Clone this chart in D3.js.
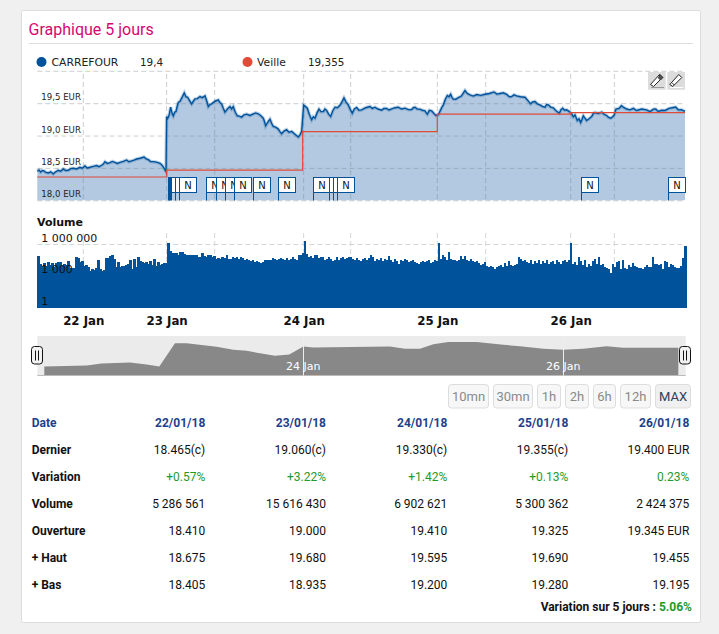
<!DOCTYPE html>
<html>
<head>
<meta charset="utf-8">
<script src="https://cdn.jsdelivr.net/npm/d3@7"></script>
<style>
  html, body { margin: 0; padding: 0; background: #f0f0f0; overflow: hidden; }
  svg { display: block; }
  .dv { font-family: "DejaVu Sans", sans-serif; }
  .rb { font-family: Roboto, sans-serif; }
</style>
</head>
<body>
<div id="chart"></div>
<script>
// session time is counted in minutes from the left edge of the chart, price in EUR
var priceData = [
    // 22 Jan
    [0,18.449],[5,18.47],[10,18.438],[15,18.46],[20,18.454],[26,18.43],[33,18.423],[40,18.44],[48,18.408],[55,18.44],
    [63,18.464],[70,18.45],[78,18.485],[85,18.46],[93,18.464],[100,18.49],[108,18.495],[118,18.485],[128,18.510],
    [135,18.495],[143,18.531],[150,18.50],[158,18.510],[168,18.525],[178,18.536],[185,18.52],[193,18.541],[198,18.56],
    [203,18.597],[210,18.57],[218,18.582],[225,18.60],[233,18.587],[240,18.57],[248,18.587],[258,18.60],[268,18.623],
    [275,18.595],[283,18.608],[290,18.62],[298,18.638],[308,18.65],[320,18.669],[327,18.64],[333,18.628],[340,18.60],
    [348,18.597],[358,18.59],[368,18.572],[373,18.55],[378,18.515],[386,18.444],
    // 23 Jan
    [388,19.295],[390,19.26],[393,19.285],[396,19.33],[400,19.438],[404,19.35],[408,19.305],[412,19.36],[416,19.372],
    [420,19.46],[423,19.510],[428,19.53],[433,19.577],[437,19.62],[441,19.659],[446,19.60],[451,19.592],[457,19.54],
    [463,19.490],[468,19.53],[473,19.567],[480,19.57],[488,19.603],[495,19.585],[503,19.613],[508,19.54],[513,19.449],
    [518,19.48],[523,19.490],[533,19.53],[543,19.551],[548,19.51],[553,19.490],[558,19.42],[563,19.362],[570,19.41],
    [578,19.449],[583,19.41],[588,19.449],[594,19.36],[600,19.305],[606,19.30],[613,19.285],[620,19.32],[628,19.331],
    [638,19.31],[648,19.336],[655,19.35],[663,19.336],[670,19.31],[678,19.269],[682,19.21],[685,19.151],[692,19.21],
    [698,19.254],[703,19.19],[708,19.141],[715,19.13],[723,19.100],[728,19.06],[733,19.028],[740,19.07],[748,19.090],
    [755,19.05],[763,19.064],[773,19.02],[783,18.977],[788,19.01],[793,19.064],
    // 24 Jan
    [799,19.469],[804,19.45],[810,19.423],[816,19.33],[823,19.244],[828,19.29],[833,19.269],[839,19.35],[845,19.408],
    [851,19.37],[858,19.372],[863,19.41],[868,19.387],[874,19.33],[880,19.295],[886,19.38],[893,19.438],[900,19.43],
    [908,19.469],[914,19.52],[920,19.582],[926,19.52],[933,19.474],[939,19.40],[945,19.346],[951,19.41],[958,19.433],
    [965,19.39],[973,19.397],[985,19.43],[998,19.449],[1005,19.42],[1013,19.438],[1022,19.41],[1033,19.392],[1040,19.42],
    [1048,19.418],[1055,19.395],[1063,19.413],[1073,19.43],[1083,19.438],[1093,19.41],[1103,19.423],[1113,19.40],
    [1123,19.403],[1128,19.43],[1133,19.438],[1140,19.41],[1148,19.408],[1155,19.39],[1163,19.382],[1167,19.35],
    [1170,19.331],[1176,19.39],[1183,19.382],[1190,19.34],[1196,19.310],[1203,19.321],
    // 25 Jan
    [1210,19.397],[1214,19.44],[1218,19.474],[1224,19.56],[1230,19.618],[1235,19.60],[1240,19.638],[1244,19.59],
    [1248,19.562],[1255,19.56],[1263,19.587],[1272,19.61],[1283,19.695],[1290,19.65],[1298,19.628],[1308,19.61],
    [1318,19.633],[1330,19.62],[1343,19.638],[1356,19.65],[1370,19.674],[1379,19.64],[1388,19.649],[1398,19.66],
    [1408,19.638],[1416,19.60],[1423,19.603],[1430,19.63],[1438,19.613],[1450,19.60],[1463,19.592],[1472,19.54],
    [1480,19.490],[1486,19.52],[1493,19.526],[1500,19.49],[1508,19.474],[1515,19.45],[1523,19.438],[1528,19.48],
    [1533,19.474],[1540,19.44],[1548,19.428],[1557,19.38],[1566,19.346],[1571,19.40],[1576,19.423],[1582,19.39],
    [1588,19.397],[1596,19.37],
    // 26 Jan
    [1603,19.336],[1608,19.29],[1613,19.321],[1620,19.233],[1625,19.26],[1630,19.203],[1634,19.25],[1638,19.305],
    [1643,19.27],[1648,19.233],[1655,19.26],[1663,19.295],[1668,19.34],[1673,19.356],[1683,19.34],[1693,19.362],
    [1700,19.33],[1708,19.310],[1714,19.28],[1720,19.269],[1726,19.29],[1731,19.321],[1734,19.38],[1736,19.408],
    [1745,19.42],[1752,19.46],[1758,19.438],[1768,19.41],[1778,19.397],[1788,19.42],[1798,19.387],[1813,19.41],
    [1828,19.397],[1838,19.37],[1848,19.408],[1855,19.41],[1863,19.372],[1873,19.39],[1883,19.387],[1895,19.42],
    [1908,19.433],[1915,19.44],[1923,19.397],[1932,19.40],[1943,19.372]
];

// previous close, starts at the given minute
var veilleData = [
    [0,18.36],[388,18.465],[796,19.06],[1200,19.33],[1600,19.355],[1943,19.355]
];

// volume per bar, in thousands of shares
var volumeData = [
    // 22 Jan
    80,14,10,16,9,20,11,18,8,17,
    20,20,10,14,12,28,6,6,6,70,
    55,22,25,10,12,8,3,5,3.5,6,
    35,4.5,3,4,50,50,80,100,40,8,
    20,8,9,10,11,13,30,5,40,8,
    60,25,20,18,22,15,25,12,40,9,
    22,11,14,16,18,
    // 23 Jan
    1500,220,170,170,170,90,210,190,130,90,
    100,90,110,95,100,60,70,140,80,70,
    100,90,70,80,40,50,45,70,50,90,
    40,45,60,50,70,45,60,50,35,40,
    30,28,35,22,25,20,18,22,35,30,
    35,30,50,40,30,45,55,40,30,50,
    35,40,70,40,30,90,100,170,
    // 24 Jan
    2000,130,70,80,50,90,90,50,60,70,
    30,45,60,40,25,30,60,35,55,60,
    40,50,60,70,40,30,55,35,25,45,
    50,30,55,90,60,25,40,30,50,25,
    45,30,80,30,20,40,25,15,30,25,
    40,30,20,25,30,20,18,15,20,25,
    22,28,30,18,22,30,25,
    // 25 Jan
    1500,45,100,60,30,200,45,35,30,25,
    30,80,40,80,30,28,40,25,20,25,
    18,12,15,22,9,8,10,7,5,7,
    9,12,8,18,10,25,12,10,12,15,
    60,40,25,30,20,18,30,14,25,18,
    30,15,25,18,35,14,20,25,15,30,
    20,14,25,35,20,30,
    // 26 Jan
    1500,15,20,12,60,25,12,30,8,15,
    10,25,45,15,60,12,15,8,6,5,
    2,15,8,20,25,5,30,6,5,12,
    8,18,10,8,6,6,5,8,12,8,
    7,60,15,15,12,14,5,25,20,8,
    15,12,8,6,6,10,50,700
];

// the small overview under the chart
var navData = [
    [21,18.45],[148,18.50],[193,18.60],[278,18.65],[328,18.55],[366,18.45],[413,19.60],[448,19.60],[538,19.42],
    [588,19.27],[628,19.22],[713,18.98],[756,19.04],[798,19.44],[828,19.39],[998,19.42],[1058,19.44],[1103,19.32],
    [1148,19.32],[1188,19.55],[1233,19.65],[1318,19.65],[1398,19.52],[1448,19.45],[1518,19.32],[1578,19.27],
    [1638,19.32],[1708,19.45],[1758,19.37],[1923,19.37]
];

// minute of each news flag
var newsData = [392,395,398,400,414,425,507,537,564,591,648,723,828,876,886,898,1632,1893];

var dayTicks = [[138,"22 Jan"],[388,"23 Jan"],[799,"24 Jan"],[1200,"25 Jan"],[1600,"26 Jan"]];
var gridMinutes = [138,388,532,799,940,1200,1345,1600,1731];

var tableData = [
    {label:"Date", color:"#1f3f8c", bold:true, values:["22/01/18","23/01/18","24/01/18","25/01/18","26/01/18"]},
    {label:"Dernier", color:"#111", values:["18.465(c)","19.060(c)","19.330(c)","19.355(c)","19.400 EUR"]},
    {label:"Variation", color:"#1e9a2e", values:["+0.57%","+3.22%","+1.42%","+0.13%","0.23%"]},
    {label:"Volume", color:"#111", values:["5 286 561","15 616 430","6 902 621","5 300 362","2 424 375"]},
    {label:"Ouverture", color:"#111", values:["18.410","19.000","19.410","19.325","19.345 EUR"]},
    {label:"+ Haut", color:"#111", values:["18.675","19.680","19.595","19.690","19.455"]},
    {label:"+ Bas", color:"#111", values:["18.405","18.935","19.200","19.280","19.195"]}
];

var blue = "#00529b";
var red = "#e04b38";

var svg = d3.select("#chart").append("svg")
    .attr("width", 719)
    .attr("height", 634);

// card
svg.append("rect").attr("x", 21.5).attr("y", 10.5).attr("width", 679).attr("height", 612)
    .attr("rx", 2).attr("fill", "#fff").attr("stroke", "#dcdcdc");

svg.append("text").attr("class", "rb").attr("x", 28.5).attr("y", 35)
    .attr("font-size", 16).attr("fill", "#d5076f").text("Graphique 5 jours");
svg.append("line").attr("x1", 29).attr("x2", 693).attr("y1", 43.5).attr("y2", 43.5)
    .attr("stroke", "#ddd").attr("stroke-width", 1);

// legend
var legend = [[41.5,blue,"CARREFOUR",51.5,"19,4",140],[247.5,red,"Veille",257,"19,355",308]];
legend.forEach(function(d) {
    svg.append("circle").attr("cx", d[0]).attr("cy", 62).attr("r", 5).attr("fill", d[1]);
    svg.append("text").attr("class", "dv").attr("x", d[3]).attr("y", 66).attr("font-size", 10.8).attr("fill", "#222").text(d[2]);
    svg.append("text").attr("class", "dv").attr("x", d[5]).attr("y", 66).attr("font-size", 10.4).attr("fill", "#222").text(d[4]);
});

// scales
var x = d3.scaleLinear().domain([0, 1943]).range([37.3, 685]);
var y = d3.scaleLinear().domain([18, 20]).range([200.3, 70.8]);
var yVolume = d3.scaleLog().domain([1, 1000000]).range([307.5, 244.5]);
var xBar = d3.scaleBand().domain(d3.range(volumeData.length)).range([37.3, 686]);
var yNav = d3.scaleLinear().domain([18, 19.95]).range([375.7, 336]);

// price area
var area = d3.area()
    .x(function(d) { return x(d[0]); })
    .y0(y(18))
    .y1(function(d) { return y(d[1]); });
var line = d3.line()
    .x(function(d) { return x(d[0]); })
    .y(function(d) { return y(d[1]); });

svg.append("path").attr("d", area(priceData)).attr("fill", "#b2c9e1");

// grid
var gridColor = "rgba(120,125,135,0.38)";
var yAxis = d3.axisLeft(y).tickValues([18, 18.5, 19, 19.5, 20])
    .tickSize(-(x.range()[1] - x.range()[0]))
    .tickFormat(function(d) { return d == 20 ? "" : d3.format(".1f")(d).replace(".", ",") + " EUR"; });
var yAxisG = svg.append("g").attr("transform", "translate(37.3,0)").call(yAxis);
yAxisG.select(".domain").remove();
yAxisG.selectAll("line").attr("stroke", gridColor).attr("stroke-dasharray", "5,3");
yAxisG.selectAll("text").attr("x", 4).attr("dy", -3.5).attr("text-anchor", "start")
    .attr("font-family", "DejaVu Sans").attr("font-size", 8.6).attr("fill", "#222");

svg.append("g").selectAll("line").data(gridMinutes).enter().append("line")
    .attr("x1", function(d) { return x(d); })
    .attr("x2", function(d) { return x(d); })
    .attr("y1", 74).attr("y2", 200)
    .attr("stroke", gridColor).attr("stroke-dasharray", "5,3");

// line with its pale halo
svg.append("path").attr("d", line(priceData)).attr("fill", "none")
    .attr("stroke", blue).attr("stroke-opacity", 0.25).attr("stroke-width", 3.5);
svg.append("path").attr("d", line(priceData)).attr("fill", "none")
    .attr("stroke", blue).attr("stroke-width", 1.4);

// previous close as a step line
svg.append("path").attr("d", d3.line().curve(d3.curveStepAfter)
        .x(function(d) { return x(d[0]); })
        .y(function(d) { return y(d[1]); })(veilleData))
    .attr("fill", "none").attr("stroke", red).attr("stroke-width", 1.2);

// news flags, the N is left out when the next flag hides it
var flags = svg.append("g").selectAll("g").data(newsData).enter().append("g")
    .attr("transform", function(d) { return "translate(" + (Math.round(x(d)) + 0.5) + ",177.5)"; });
flags.append("line").attr("y1", 0).attr("y2", 23).attr("stroke", blue).attr("stroke-width", 1);
flags.append("rect").attr("width", 17).attr("height", 15)
    .attr("fill", "#fff").attr("stroke", blue).attr("stroke-width", 1);
flags.filter(function(d, i) { return i == newsData.length - 1 || newsData[i + 1] - d > 20; })
    .append("text").attr("class", "dv").attr("x", 8.5).attr("y", 11.5).attr("text-anchor", "middle")
    .attr("font-size", 10).attr("fill", "#111").text("N");

// pencil buttons
var pencil = "M-7,4 L-4,6 L5,-3 L2,-6 Z";
[[648,"#999"],[667.3,"#fff"]].forEach(function(d, i) {
    var b = svg.append("g").attr("transform", "translate(" + d[0] + ",72)");
    b.append("rect").attr("width", 17.7).attr("height", 17.7).attr("fill", "#dcdcdc");
    var p = b.append("g").attr("transform", "translate(9.5,8.5)");
    p.append("path").attr("d", pencil).attr("fill", "#fff").attr("stroke", "#222").attr("stroke-width", 1);
    p.append("path").attr("d", i == 0 ? "M1,-2.5 L3,-0.5 L5.5,-3 L2.5,-6 Z" : "M-4.5,2.5 L-2.5,4.5").attr("fill", "#555").attr("stroke", "#333");
    b.append("line").attr("x1", 3).attr("x2", 16).attr("y1", 15.5).attr("y2", 15.5).attr("stroke", d[1]).attr("stroke-width", 1);
});

// volume
svg.append("text").attr("class", "dv").attr("x", 37).attr("y", 226)
    .attr("font-size", 11).attr("font-weight", "bold").attr("fill", "#111").text("Volume");

var volGrid = svg.append("g");
volGrid.append("line").attr("x1", 37.3).attr("x2", 685).attr("y1", yVolume(1000000)).attr("y2", yVolume(1000000))
    .attr("stroke", "#d5d5d5").attr("stroke-dasharray", "5,3");
volGrid.selectAll(".vgrid").data(gridMinutes).enter().append("line")
    .attr("class", "vgrid")
    .attr("x1", function(d) { return x(d); })
    .attr("x2", function(d) { return x(d); })
    .attr("y1", 233).attr("y2", 262)
    .attr("stroke", "#d5d5d5").attr("stroke-dasharray", "5,3");

svg.append("g").attr("shape-rendering", "crispEdges")
    .selectAll("rect").data(volumeData).enter().append("rect")
    .attr("x", function(d, i) { return xBar(i); })
    .attr("width", xBar.bandwidth() + 0.5)
    .attr("y", function(d) { return yVolume(d * 1000); })
    .attr("height", function(d) { return yVolume(1) - yVolume(d * 1000); })
    .attr("fill", blue);

var yVolumeAxis = d3.axisLeft(yVolume).tickValues([1, 1000, 1000000]).tickSize(0)
    .tickFormat(function(d) { return d3.format(",")(d).replace(/,/g, " "); });
var yVolumeG = svg.append("g").attr("transform", "translate(37.3,0)").call(yVolumeAxis);
yVolumeG.select(".domain").remove();
yVolumeG.selectAll("text").attr("font-family", "DejaVu Sans").attr("x", 4).attr("dy", -3.5)
    .attr("text-anchor", "start").attr("font-size", 11).attr("fill", "#111");

// day labels
var xAxis = d3.axisBottom(x).tickValues(dayTicks.map(function(d) { return d[0]; })).tickSize(0)
    .tickFormat(function(d, i) { return dayTicks[i][1]; });
var xAxisG = svg.append("g").attr("transform", "translate(0,314)").call(xAxis);
xAxisG.select(".domain").remove();
xAxisG.selectAll("text").attr("font-family", "DejaVu Sans").attr("font-weight", "bold")
    .attr("font-size", 11.8).attr("fill", "#111");

// overview
svg.append("rect").attr("x", 37.3).attr("y", 336).attr("width", 648.4).attr("height", 39.7).attr("fill", "#ebebeb");
svg.append("path").attr("d", d3.area()
        .x(function(d) { return x(d[0]); })
        .y0(yNav(18))
        .y1(function(d) { return yNav(d[1]); })(navData))
    .attr("fill", "#888");
svg.append("line").attr("x1", 37.3).attr("x2", 685.7).attr("y1", 375.5).attr("y2", 375.5).attr("stroke", "#bbb");
[[798,"24 Jan"],[1578,"26 Jan"]].forEach(function(d) {
    svg.append("line").attr("x1", Math.round(x(d[0])) + 0.5).attr("x2", Math.round(x(d[0])) + 0.5)
        .attr("y1", 336).attr("y2", 375.5).attr("stroke", "#eee");
    svg.append("text").attr("class", "dv").attr("x", x(d[0])).attr("y", 370).attr("text-anchor", "middle")
        .attr("font-size", 11).attr("fill", "#fff").text(d[1]);
});
[31.5, 679.5].forEach(function(d) {
    var h = svg.append("g").attr("transform", "translate(" + d + ",346.5)");
    h.append("rect").attr("width", 11).attr("height", 17.5).attr("rx", 3).attr("fill", "#f2f2f2").attr("stroke", "#111");
    h.append("line").attr("x1", 4).attr("x2", 4).attr("y1", 4).attr("y2", 14).attr("stroke", "#111");
    h.append("line").attr("x1", 7).attr("x2", 7).attr("y1", 4).attr("y2", 14).attr("stroke", "#111");
});

// zoom buttons
var buttons = [["10mn",448.5,40],["30mn",493.5,39],["1h",537.5,23],["2h",565.5,23],["6h",593.5,22],["12h",620.5,30],["MAX",655.5,35]];
var btn = svg.append("g").selectAll("g").data(buttons).enter().append("g")
    .attr("transform", function(d) { return "translate(" + d[1] + ",384.5)"; });
btn.append("rect").attr("width", function(d) { return d[2]; }).attr("height", 23.5).attr("rx", 3)
    .attr("fill", function(d) { return d[0] == "MAX" ? "#f0f0f0" : "#f7f7f7"; })
    .attr("stroke", "#ddd");
btn.append("text").attr("class", "rb").attr("x", function(d) { return d[2] / 2; }).attr("y", 16.5)
    .attr("text-anchor", "middle").attr("font-size", 13)
    .attr("fill", function(d) { return d[0] == "MAX" ? "#2b3f5c" : "#8a8a8a"; })
    .text(function(d) { return d[0]; });

// table
var xCol = [205.3, 326, 447.3, 568.3, 689.3];
var rowY = d3.scalePoint().domain(tableData.map(function(d) { return d.label; })).range([426.5, 588.5]);
var rows = svg.append("g").selectAll("g").data(tableData).enter().append("g")
    .attr("transform", function(d) { return "translate(0," + rowY(d.label) + ")"; });
rows.append("text").attr("class", "rb").attr("x", 31.7).attr("font-size", 12).attr("font-weight", "bold")
    .attr("fill", function(d) { return d.label == "Date" ? d.color : "#111"; })
    .text(function(d) { return d.label; });
rows.selectAll(".v").data(function(d) { return d.values.map(function(v) { return {v: v, row: d}; }); })
    .enter().append("text")
    .attr("class", "v rb")
    .attr("x", function(d, i) { return xCol[i]; })
    .attr("text-anchor", "end").attr("font-size", 12)
    .attr("font-weight", function(d) { return d.row.bold ? "bold" : "normal"; })
    .attr("fill", function(d) { return d.row.color; })
    .text(function(d) { return d.v; });

var foot = svg.append("text").attr("class", "rb").attr("x", 692).attr("y", 611).attr("text-anchor", "end")
    .attr("font-size", 12).attr("font-weight", "bold").attr("fill", "#111");
foot.append("tspan").text("Variation sur 5 jours : ");
foot.append("tspan").attr("fill", "#1e9a2e").text("5.06%");
</script>
</body>
</html>
